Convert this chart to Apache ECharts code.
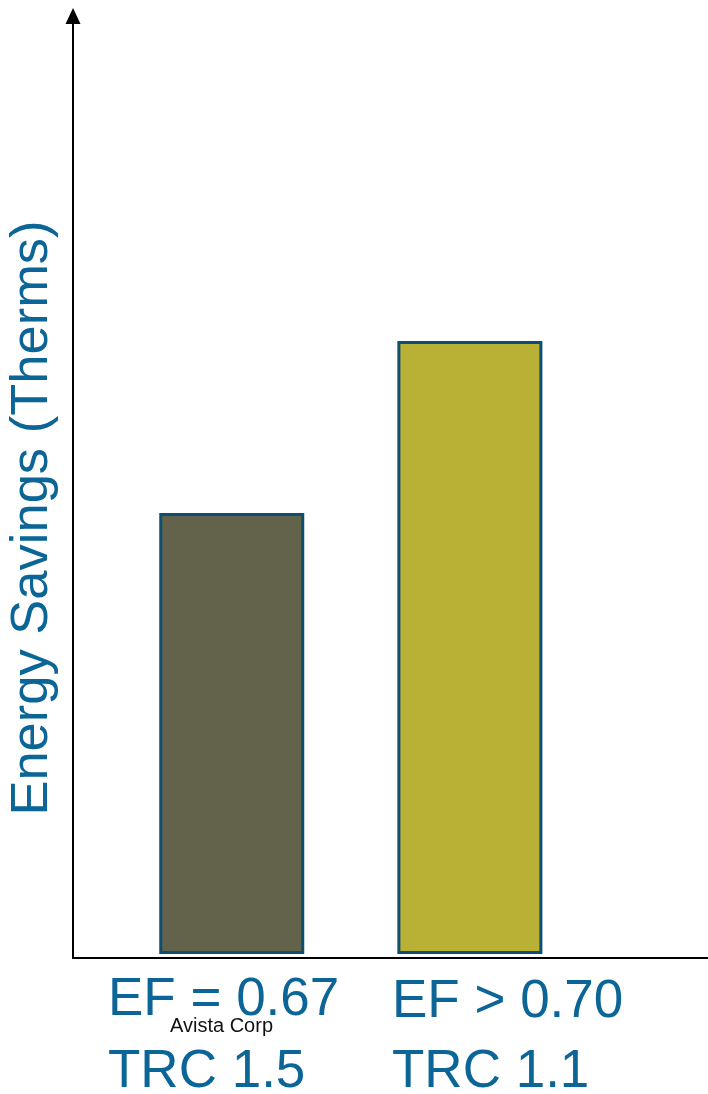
<!DOCTYPE html>
<html>
<head>
<meta charset="utf-8">
<script src="https://cdn.jsdelivr.net/npm/echarts@6/dist/echarts.min.js"></script>
<style>
html,body{margin:0;padding:0;background:#fff;}
#chart{width:708px;height:1094px;}
</style>
</head>
<body>
<div id="chart"></div>
<script>
// Data
const categories = ['EF = 0.67\nTRC 1.5', 'EF > 0.70\nTRC 1.1'];
const xSlots = [1, 2.5];          // bar positions on the 0–4 x scale
const savings = [441, 613];       // relative energy savings (no scale shown)
const yAxisTitle = 'Energy Savings (Therms)';
const sourceNote = 'Avista Corp';

const FONT = '"Liberation Sans", Arial, sans-serif';
const BLUE = '#0b6596';
const barColors = ['#63624a', '#b9b036'];

const chart = echarts.init(document.getElementById('chart'), null, {renderer: 'canvas'});

const labelLines = categories.map(c => c.split('\n'));
const labelLeft = [108, 392];

const graphics = [
  {
    type: 'text', x: 33, y: 518, rotation: Math.PI / 2,
    style: {text: yAxisTitle, fill: BLUE, font: '52.5px ' + FONT, textAlign: 'center', textVerticalAlign: 'middle'}
  },
  {
    type: 'text', x: 170, y: 1026,
    style: {text: sourceNote, fill: '#111', font: '20px ' + FONT, textAlign: 'left', textVerticalAlign: 'middle'}
  }
];
labelLines.forEach((lines, i) => {
  graphics.push({
    type: 'text', x: labelLeft[i], y: (i === 0 ? 1019 : 1021) - 18.4,
    style: {text: lines[0], fill: BLUE, font: '53px ' + FONT, textAlign: 'left', textVerticalAlign: 'middle'}
  });
  graphics.push({
    type: 'text', x: labelLeft[i], y: 1091 - 18.4,
    style: {text: lines[1], fill: BLUE, font: '53px ' + FONT, textAlign: 'left', textVerticalAlign: 'middle'}
  });
});

chart.setOption({
  animation: false,
  backgroundColor: '#fff',
  grid: {left: 73, right: 0, top: 16, bottom: 136, containLabel: false},
  xAxis: {
    type: 'value', min: 0, max: 4,
    axisLine: {show: true, onZero: false, lineStyle: {color: '#000', width: 2}},
    axisTick: {show: false}, axisLabel: {show: false}, splitLine: {show: false}
  },
  yAxis: {
    type: 'value', min: -4, max: 938,
    axisLine: {show: true, onZero: false, symbol: ['none', 'triangle'], symbolSize: [15, 16], lineStyle: {color: '#000', width: 2}},
    axisTick: {show: false}, axisLabel: {show: false}, splitLine: {show: false}
  },
  series: [{
    type: 'bar',
    barWidth: 145,
    data: savings.map((v, i) => ({
      value: [xSlots[i], v],
      itemStyle: {color: barColors[i]}
    })),
    itemStyle: {borderColor: '#0c4f72', borderWidth: 3}
  }],
  graphic: graphics
});
</script>
</body>
</html>
